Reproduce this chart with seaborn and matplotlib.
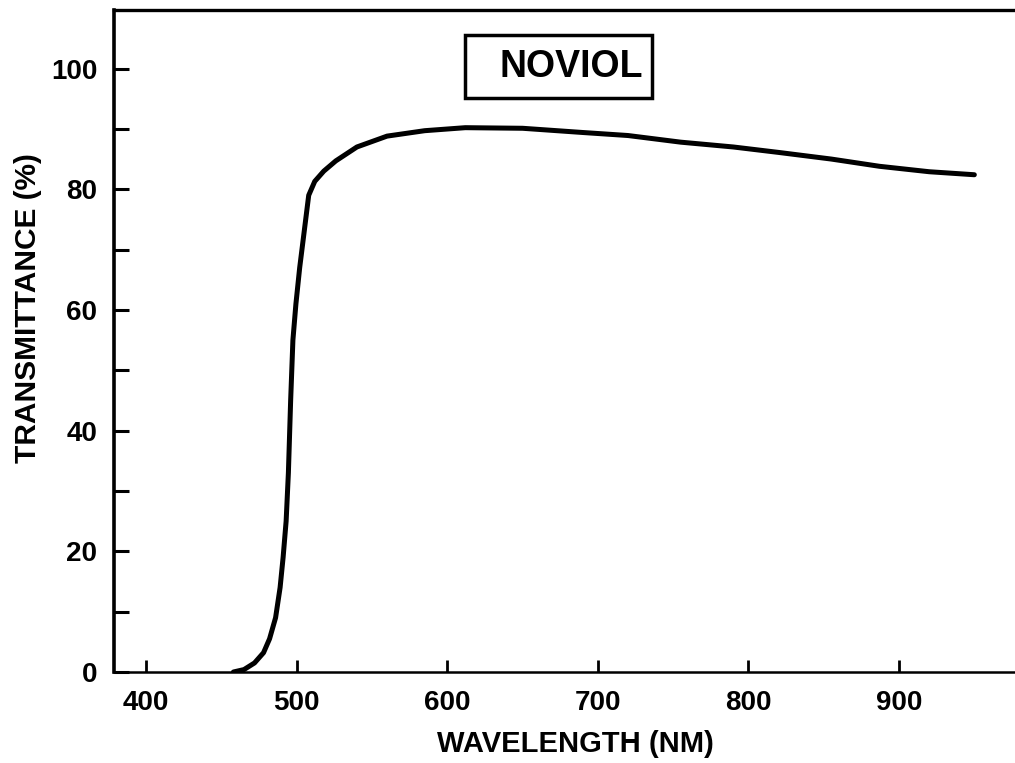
import matplotlib
matplotlib.use('Agg')
import matplotlib.pyplot as plt
import pandas as pd
import seaborn as sns
from matplotlib.patches import Rectangle
from matplotlib.ticker import MultipleLocator

# curve
wavelength = [458, 465, 472, 478, 482, 486, 489, 491, 493, 494.5, 496, 497.5, 499.5,
              502, 505, 508, 512, 518, 526, 540, 560, 585, 612, 650, 690, 720, 755,
              790, 820, 855, 887, 920, 950]
transmittance = [0, 0.4, 1.5, 3.2, 5.5, 9, 14, 19, 25, 33, 45, 55, 61,
                 67, 73, 79, 81.3, 83, 84.7, 87, 88.8, 89.7, 90.2, 90.1, 89.4, 88.9, 87.8,
                 87.0, 86.1, 85.0, 83.8, 82.9, 82.4]

x_ticks = [400, 500, 600, 700, 800, 900]
y_ticks = [0, 20, 40, 60, 80, 100]
label = 'NOVIOL'

sns.set_theme(style='ticks')
plt.rcParams['font.family'] = ['Liberation Sans', 'DejaVu Sans']
plt.rcParams['font.weight'] = 'bold'
for key in ('text.color', 'axes.labelcolor', 'xtick.color', 'ytick.color', 'axes.edgecolor'):
    plt.rcParams[key] = 'black'

df = pd.DataFrame({'wavelength': wavelength, 'transmittance': transmittance})

fig = plt.figure(figsize=(10.15, 7.63), dpi=100)
ax = fig.add_axes([114 / 1015, 91 / 763, 901 / 1015, 662 / 763])

sns.lineplot(data=df, x='wavelength', y='transmittance', color='black',
             linewidth=3.6, solid_capstyle='round', ax=ax)

ax.set_xlim(378.7, 977)
ax.set_ylim(0, 109.7)
ax.set_xticks(x_ticks)
ax.set_yticks(y_ticks)
ax.yaxis.set_minor_locator(MultipleLocator(10))

ax.tick_params(axis='both', which='both', direction='in')
ax.tick_params(axis='x', which='major', length=9, width=2, pad=13, labelsize=20)
ax.tick_params(axis='y', which='major', length=11, width=2.2, pad=12, labelsize=20)
ax.tick_params(axis='y', which='minor', length=11, width=2.2)

for lab in ax.get_xticklabels() + ax.get_yticklabels():
    lab.set_fontweight('bold')

ax.spines['right'].set_visible(False)
ax.spines['left'].set_linewidth(2.6)
ax.spines['top'].set_linewidth(2.4)
ax.spines['bottom'].set_linewidth(1.8)

ax.set_xlabel('WAVELENGTH (NM)', fontsize=21, fontweight='bold')
ax.set_ylabel('TRANSMITTANCE (%)', fontsize=21.5, fontweight='bold')
ax.xaxis.set_label_coords(0.5117, -0.0876)
ax.yaxis.set_label_coords(-0.08, 0.55)

# boxed filter name
ax.add_patch(Rectangle((0.3896, 0.867), 0.2075, 0.095, transform=ax.transAxes,
                       fill=False, ec='black', lw=2.5, zorder=3))
ax.text(682.4, 100.3, label, fontsize=27, fontweight='bold', ha='center', va='center')

fig.savefig('out.png', dpi=100)
